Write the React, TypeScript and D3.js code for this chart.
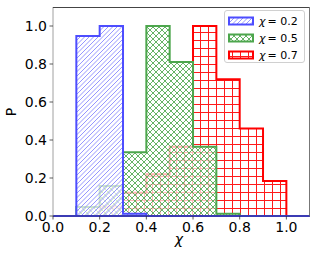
import React from "react";
import * as d3 from "d3";

// bin edges shared by the three histograms
const edges = [0, 0.1, 0.2, 0.3, 0.4, 0.5, 0.6, 0.7, 0.8, 0.9, 1.0, 1.1];
const chi02 = [0, 0.947, 1.0, 0.012, 0, 0, 0, 0, 0, 0, 0];
const chi05 = [0, 0.047, 0.158, 0.335, 1.0, 0.81, 0.365, 0.012, 0, 0, 0];
const chi07 = [0, 0, 0.05, 0.123, 0.22, 0.365, 1.0, 0.72, 0.46, 0.184, 0];

const xTicks = [0, 0.2, 0.4, 0.6, 0.8, 1.0];
const yTicks = [0, 0.2, 0.4, 0.6, 0.8, 1.0];
const legendLabels = ["0.2", "0.5", "0.7"];

const W = 317;
const H = 260;
const font = "DejaVu Sans, sans-serif";

const series = [
  { name: "0.2", values: chi02, edge: "#4d4dff", hatch: "url(#hBlue)" },
  { name: "0.5", values: chi05, edge: "#4da64d", hatch: "url(#hGreen)" },
  { name: "0.7", values: chi07, edge: "#ff0000", hatch: "url(#hRed)" },
];

const App = () => {
  const x = d3.scaleLinear().domain([0, 1.1]).range([53, 309.7]);
  const y = d3.scaleLinear().domain([0, 1.1]).range([216, 7]);

  const area = d3
    .area<[number, number]>()
    .x((d) => x(d[0]))
    .y0(y(0))
    .y1((d) => y(d[1]))
    .curve(d3.curveStepAfter);

  const stepPath = (vals: number[]) => {
    const pts: [number, number][] = vals.map((v, i) => [edges[i], v]);
    pts.push([edges[edges.length - 1], vals[vals.length - 1]]);
    return area(pts) as string;
  };

  // drawn back to front: red, green, blue
  const order = [2, 1, 0];

  return (
    <svg width={W} height={H} style={{ position: "absolute", left: 0, top: 0 }}>
      <defs>
        <pattern id="hBlue" patternUnits="userSpaceOnUse" width={9} height={9}>
          <path
            d="M-1,1 L1,-1 M-1,5.5 L5.5,-1 M-1,10 L10,-1 M3.5,10 L10,3.5 M8,10 L10,8"
            fill="none"
            stroke="#8a8aff"
            strokeWidth={0.9}
          />
        </pattern>
        <pattern id="hGreen" patternUnits="userSpaceOnUse" width={6} height={6}>
          <path d="M0,0 L6,6 M0,6 L6,0" fill="none" stroke="#55aa55" strokeWidth={0.9} />
        </pattern>
        <pattern id="hRed" patternUnits="userSpaceOnUse" width={8} height={8}>
          <path d="M0,0.5 L8,0.5 M0.5,0 L0.5,8" fill="none" stroke="#ff1a1a" strokeWidth={1} />
        </pattern>
      </defs>
      <rect x={0} y={0} width={W} height={H} fill="#fff" />

      {order.map((k) => {
        const s = series[k];
        const d = stepPath(s.values);
        return (
          <g key={s.name}>
            <path d={d} fill="#fff" fillOpacity={0.7} />
            <path d={d} fill={s.hatch} />
            <path d={d} fill="none" stroke={s.edge} strokeWidth={2} strokeLinejoin="miter" />
          </g>
        );
      })}

      {/* spines */}
      <line x1={53} x2={53} y1={7} y2={216} stroke="#a0a0a0" strokeWidth={1} />
      <line x1={53} x2={309.7} y1={7.5} y2={7.5} stroke="#444" strokeWidth={1} />
      <line x1={309.5} x2={309.5} y1={7} y2={216} stroke="#777" strokeWidth={1} />
      <line x1={53} x2={309.7} y1={216} y2={216} stroke="#2a2a6a" strokeWidth={1.2} />

      {/* x axis */}
      {xTicks.map((t) => (
        <g key={"x" + t}>
          <line x1={x(t)} x2={x(t)} y1={216} y2={219.5} stroke="#333" strokeWidth={0.8} />
          <text x={x(t)} y={232} textAnchor="middle" fontFamily={font} fontSize={14} fill="#000">
            {t.toFixed(1)}
          </text>
        </g>
      ))}
      {/* y axis */}
      {yTicks.map((t) => (
        <g key={"y" + t}>
          <line x1={49.5} x2={53} y1={y(t)} y2={y(t)} stroke="#333" strokeWidth={0.8} />
          <text x={47} y={y(t) + 5} textAnchor="end" fontFamily={font} fontSize={14} fill="#000">
            {t.toFixed(1)}
          </text>
        </g>
      ))}

      <text x={179} y={244} textAnchor="middle" fontFamily={font} fontSize={14} fontStyle="italic">
        χ
      </text>
      <text
        transform="translate(16,112) rotate(-90)"
        textAnchor="middle"
        fontFamily={font}
        fontSize={14}
      >
        P
      </text>

      {/* legend */}
      <rect x={224.5} y={10.5} width={80} height={52} rx={2.5} fill="#fff" fillOpacity={0.8} stroke="#d0d0d0" strokeWidth={1} />
      {series.map((s, i) => {
        const cy = 21 + i * 17;
        return (
          <g key={"lg" + s.name}>
            <rect x={229} y={cy - 3.5} width={24} height={7} fill="#fff" />
            <rect x={229} y={cy - 3.5} width={24} height={7} fill={s.hatch} />
            <rect x={229} y={cy - 3.5} width={24} height={7} fill="none" stroke={s.edge} strokeWidth={2} />
            <text x={259} y={cy + 4} fontFamily={font} fontSize={11} fill="#000">
              <tspan fontStyle="italic">χ</tspan>
              <tspan dx={2}>= {legendLabels[i]}</tspan>
            </text>
          </g>
        );
      })}
    </svg>
  );
};

export default App;
